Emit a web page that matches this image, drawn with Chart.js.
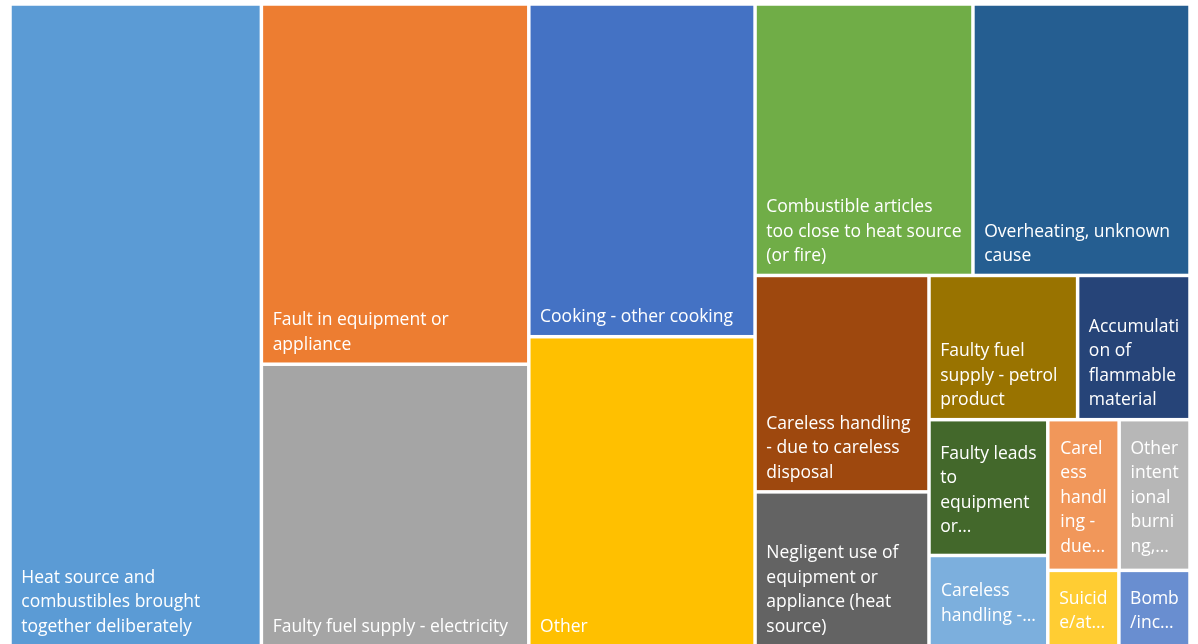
<!DOCTYPE html>
<html>
<head>
<meta charset="utf-8">
<script src="https://cdn.jsdelivr.net/npm/chart.js@4.4.0/dist/chart.umd.min.js"></script>
<style>
  html, body { margin: 0; padding: 0; background: #fff; overflow: hidden; }
  #wrap { width: 1198px; height: 646px; }
</style>
</head>
<body>
<div id="wrap"><canvas id="chart"></canvas></div>
<script>
// fire causes, in the order of the source table
const categories = [
  'Heat source and combustibles brought together deliberately',
  'Fault in equipment or appliance',
  'Faulty fuel supply - electricity',
  'Other',
  'Cooking - other cooking',
  'Combustible articles too close to heat source (or fire)',
  'Overheating, unknown cause',
  'Careless handling - due to careless disposal',
  'Negligent use of equipment or appliance (heat source)',
  'Faulty fuel supply - petrol product',
  'Accumulation of flammable material',
  'Faulty leads to equipment or appliance',
  'Careless handling - due to being distracted',
  'Careless handling - due to sleep or unconsciousness',
  'Other intentional burning, going too far',
  'Suicide/attempts',
  'Bomb/incendiary device'
];
const counts = [2131, 1272, 995, 924, 994, 781, 778, 497, 354, 283, 214, 213, 142, 142, 141, 71, 71];
const colours = [
  '#5B9BD5', '#ED7D31', '#A5A5A5', '#FFC000', '#4472C4', '#70AD47',
  '#255E91', '#9E480E', '#636363', '#997300', '#264478', '#43682B',
  '#7CAFDD', '#F1975A', '#B7B7B7', '#FFCD33', '#698ED0'
];
// number of cells in each strip, largest first
const strips = [1, 2, 2, 2, 2, 2, 2, 2, 1, 1];

const FONT = '17.5px "Open Sans"';
const LINE = 24.5;

function wrapText(ctx, text, maxW) {
  const lines = [];
  let cur = '';
  for (let w of text.split(' ')) {
    const test = cur ? cur + ' ' + w : w;
    if (ctx.measureText(test).width <= maxW) { cur = test; continue; }
    if (cur) lines.push(cur);
    cur = '';
    while (ctx.measureText(w).width > maxW && w.length > 1) {
      let j = w.length - 1;
      while (j > 1 && ctx.measureText(w.slice(0, j)).width > maxW) j--;
      lines.push(w.slice(0, j));
      w = w.slice(j);
    }
    cur = w;
  }
  if (cur) lines.push(cur);
  return lines;
}

const treemapCells = {
  id: 'treemapCells',
  afterDatasetsDraw(chart, args, opts) {
    const ctx = chart.ctx;
    const xs = chart.scales.x, ys = chart.scales.y;
    const W = xs.getPixelForValue(1) - xs.getPixelForValue(0);
    const H = ys.getPixelForValue(1) - ys.getPixelForValue(0);

    const items = opts.values.map((v, i) => ({ v, i })).sort((a, b) => b.v - a.v);
    let rest = items.reduce((s, a) => s + a.v, 0);
    const r = { x: 0, y: 0, w: W, h: H };
    const cells = [];
    let k = 0;
    opts.strips.forEach(n => {
      const grp = items.slice(k, k + n);
      k += n;
      const sum = grp.reduce((s, a) => s + a.v, 0);
      if (r.w >= r.h) {
        const t = r.w * sum / rest;
        let yy = r.y;
        grp.forEach(it => {
          const hh = r.h * it.v / sum;
          cells.push({ i: it.i, x0: r.x / W, y0: yy / H, x1: (r.x + t) / W, y1: (yy + hh) / H });
          yy += hh;
        });
        r.x += t; r.w -= t;
      } else {
        const t = r.h * sum / rest;
        let xx = r.x;
        grp.forEach(it => {
          const ww = r.w * it.v / sum;
          cells.push({ i: it.i, x0: xx / W, y0: r.y / H, x1: (xx + ww) / W, y1: (r.y + t) / H });
          xx += ww;
        });
        r.y += t; r.h -= t;
      }
      rest -= sum;
    });

    const gap = 1.75;
    ctx.save();
    ctx.font = FONT;
    cells.forEach(c => {
      const left = xs.getPixelForValue(c.x0) + gap;
      const right = xs.getPixelForValue(c.x1) - gap;
      const top = ys.getPixelForValue(c.y0) + gap;
      const bottom = ys.getPixelForValue(c.y1) - gap;
      ctx.fillStyle = opts.colours[c.i];
      ctx.fillRect(left, top, right - left, bottom - top);

      const maxW = right - left - 18;
      let lines = wrapText(ctx, opts.labels[c.i], maxW);
      const maxLines = Math.max(1, Math.floor((bottom - top - 16) / LINE));
      ctx.fillStyle = '#ffffff';
      ctx.textAlign = 'left';
      ctx.textBaseline = 'alphabetic';
      if (lines.length <= maxLines) {
        const n = lines.length;
        lines.forEach((ln, j) => {
          ctx.fillText(ln, left + 9.5, bottom - 12.5 - (n - 1 - j) * LINE);
        });
      } else {
        lines = lines.slice(0, maxLines);
        let s = lines[maxLines - 1];
        while (s.length && ctx.measureText(s.trimEnd() + '…').width > maxW) s = s.slice(0, -1);
        lines[maxLines - 1] = s.trimEnd() + '…';
        const bw = Math.max(...lines.map(l => ctx.measureText(l).width));
        const bx = (left + right) / 2 - bw / 2;
        const by = (top + bottom) / 2 - lines.length * LINE / 2;
        lines.forEach((ln, j) => ctx.fillText(ln, bx, by + 20 + j * LINE));
      }
    });
    ctx.restore();
  }
};

new Chart(document.getElementById('chart'), {
  type: 'scatter',
  data: { datasets: [{ label: 'Fires', data: [] }] },
  options: {
    responsive: true,
    maintainAspectRatio: false,
    animation: false,
    events: [],
    layout: { padding: { left: 10, top: 4, right: 8, bottom: 0 } },
    scales: {
      x: { type: 'linear', min: 0, max: 1, display: false },
      y: { type: 'linear', min: 0, max: 1, reverse: true, display: false }
    },
    plugins: {
      legend: { display: false },
      tooltip: { enabled: false },
      treemapCells: { values: counts, labels: categories, colours: colours, strips: strips }
    }
  },
  plugins: [treemapCells]
});
</script>
</body>
</html>
